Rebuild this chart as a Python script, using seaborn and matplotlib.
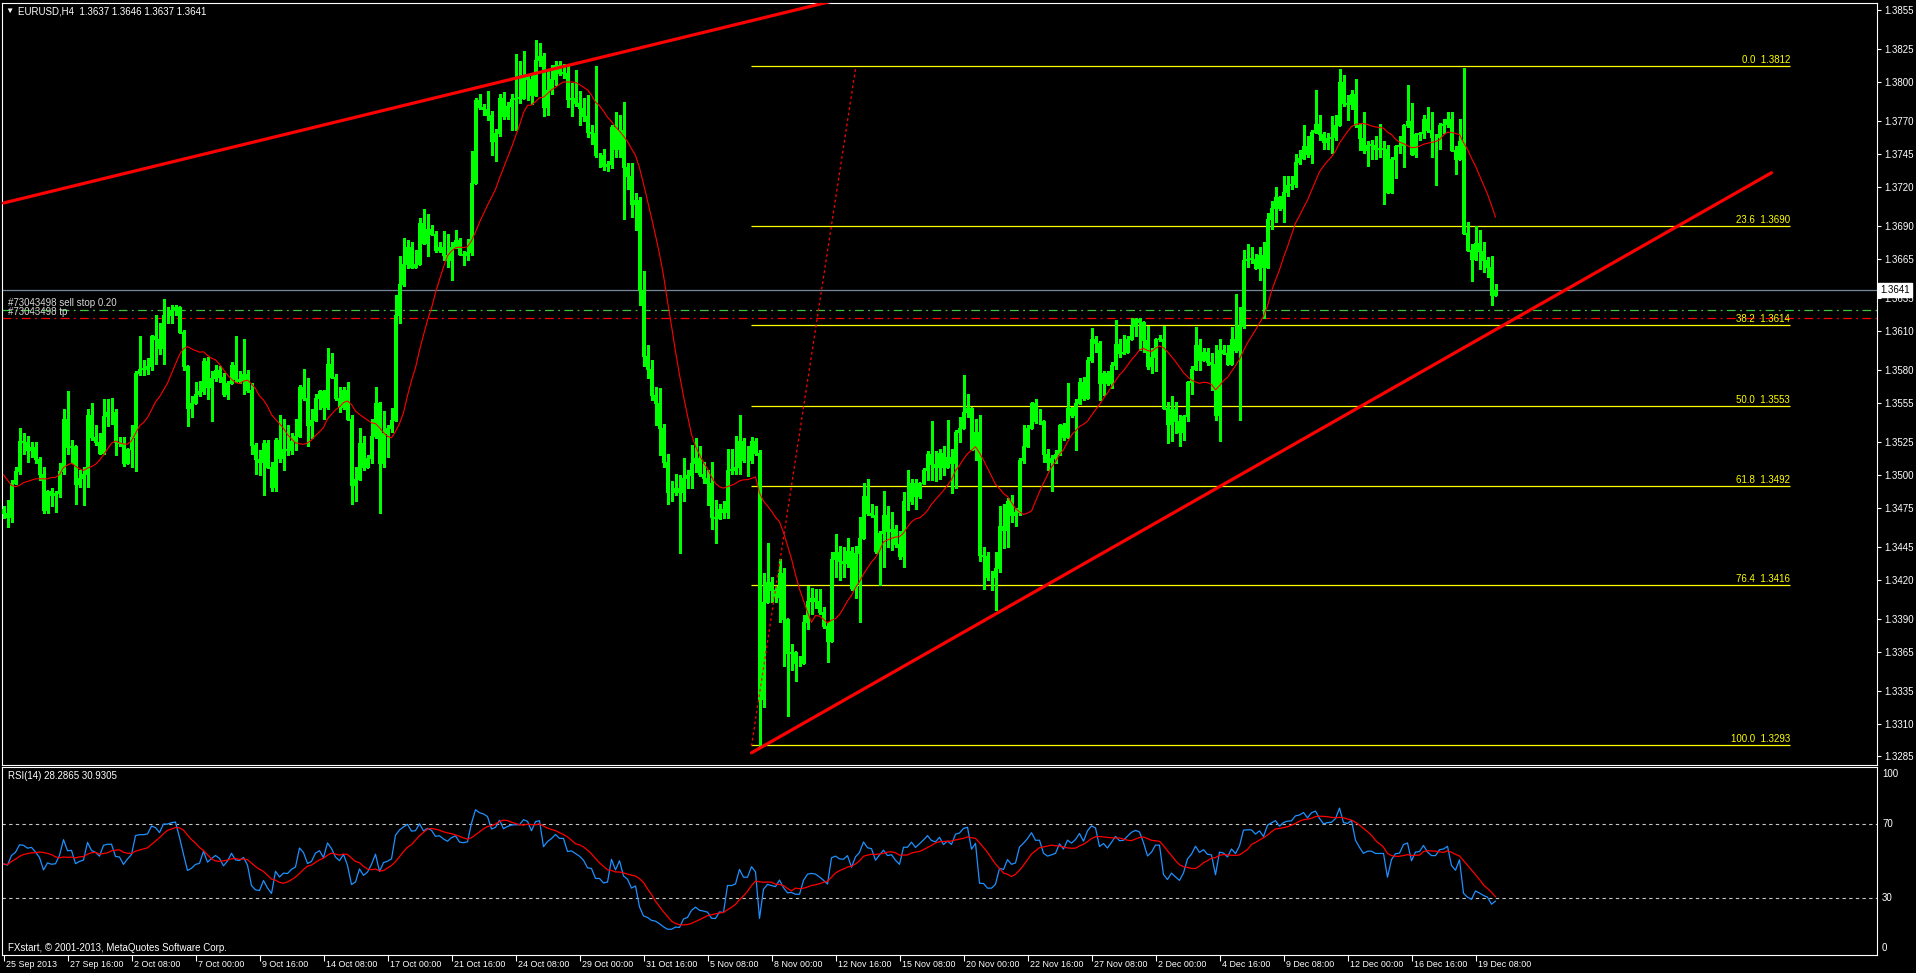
import numpy as np
import pandas as pd
import matplotlib
matplotlib.use("Agg")
import matplotlib.pyplot as plt
import matplotlib.transforms as mtrans
import seaborn as sns

sns.set_theme(style="ticks", rc={"axes.facecolor": "black", "figure.facecolor": "black",
                                 "axes.grid": False, "savefig.facecolor": "black"})
plt.rcParams['font.family'] = ['Liberation Sans', 'DejaVu Sans']

# ---------------- data (prices in pips above 1.3000) ----------------
symbol = "EURUSD,H4"
base = 1.3
open0_pips = 474
close_pips = [
471,468,494,503,526,525,519,521,512,501,473,488,485,486,503,543,
521,522,493,498,501,546,529,525,517,545,548,548,525,524,509,520,
529,578,581,581,583,606,604,597,622,622,626,628,609,583,551,555,
562,564,587,567,574,580,575,562,570,584,573,572,577,565,523,512,
510,524,506,491,527,513,520,519,526,530,567,559,538,542,559,564,
552,585,575,559,552,565,543,492,497,524,506,513,530,555,509,532,
536,542,622,646,661,674,659,661,692,677,688,684,672,674,668,664,
674,679,669,668,670,723,786,781,779,775,755,761,788,774,782,787,
788,788,804,802,790,817,820,781,794,802,813,807,807,787,788,784,
780,774,762,761,744,744,736,737,766,749,763,735,728,707,710,641,
591,581,561,555,536,510,487,487,490,487,498,500,509,513,501,498,
494,468,467,474,472,504,504,506,526,511,511,526,517,329,403,418,
412,407,425,390,364,365,356,356,388,404,406,404,395,385,373,436,
441,434,433,442,414,440,452,484,471,469,442,456,469,457,459,447,
438,480,480,494,484,494,504,516,508,506,517,506,514,509,533,536,
548,551,520,533,439,438,422,422,429,461,458,480,469,472,511,522,
536,555,541,541,516,510,513,516,538,529,551,546,555,571,559,588,
604,601,570,578,570,584,600,593,594,604,614,619,617,603,583,590,
604,604,551,539,550,541,533,545,571,581,599,588,594,586,585,546,
595,593,585,604,595,614,664,665,665,658,668,659,695,704,712,704,
716,721,722,739,742,751,745,762,768,760,754,757,758,767,800,784,
783,791,767,757,748,752,752,749,749,749,716,741,751,752,767,770,
745,760,761,772,763,758,758,767,768,772,748,741,755,685,672,665,
677,671,664,659,637,641]
high_pips = [
476,481,496,506,536,532,530,525,525,514,506,488,490,488,509,550,
564,527,518,504,506,550,555,538,532,558,558,559,550,529,529,520,
538,579,606,588,589,607,622,616,634,628,630,630,626,611,583,560,
571,572,589,590,579,584,583,578,572,586,606,579,604,580,570,524,
519,527,527,510,528,546,543,538,532,543,569,581,574,550,562,565,
565,597,593,577,567,567,571,546,506,536,530,515,543,567,556,549,
538,551,637,667,681,679,678,672,696,703,699,691,686,678,686,684,
678,687,681,671,680,747,788,791,783,793,778,764,791,792,785,791,
821,816,824,805,805,832,830,822,808,813,816,816,814,812,799,809,
793,788,790,767,812,746,749,740,767,777,775,785,738,738,715,712,
656,599,588,567,566,539,516,495,501,500,513,504,523,528,522,510,
504,510,481,478,480,520,520,530,546,528,522,529,528,519,425,448,
422,415,436,429,389,371,362,362,393,415,414,413,413,399,388,441,
455,446,445,452,445,446,468,494,497,478,476,457,488,476,472,462,
457,487,504,497,497,494,505,518,541,518,520,522,542,520,534,544,
576,562,550,543,546,445,441,427,441,476,478,482,485,475,513,538,
538,556,558,550,541,520,515,519,539,540,570,552,558,574,575,590,
612,606,602,579,579,586,618,604,607,606,620,620,620,617,614,597,
604,607,614,556,560,556,546,546,572,583,613,604,597,597,593,599,
604,599,599,613,638,628,672,676,674,669,674,678,700,709,720,713,
728,728,728,745,748,767,759,763,794,775,762,761,774,775,810,805,
790,794,802,768,777,755,756,759,768,755,752,743,752,759,767,798,
784,761,762,775,781,777,760,769,772,777,777,751,772,811,693,676,
690,687,678,666,667,646]
low_pips = [
467,460,464,493,501,516,510,514,509,496,471,471,476,472,483,501,
516,509,478,491,477,491,527,523,516,516,537,539,515,522,507,509,
506,503,576,576,577,580,585,592,585,616,616,622,608,580,537,544,
557,560,562,558,541,572,571,560,558,570,571,570,562,563,516,501,
500,485,505,488,488,510,504,515,516,519,529,557,522,528,541,550,
543,550,574,557,548,550,542,478,480,496,504,506,509,528,471,506,
514,533,541,616,644,658,658,660,661,676,667,683,670,670,664,659,
649,673,668,660,664,668,723,779,775,771,744,740,759,772,772,763,
763,784,789,786,783,789,812,774,775,791,798,805,803,781,774,782,
767,770,758,753,743,735,733,732,734,743,743,695,718,697,687,630,
583,574,557,538,515,506,478,480,485,440,480,490,490,502,499,494,
477,459,448,466,467,467,501,501,501,510,499,509,515,293,323,403,
403,403,388,354,316,351,343,354,356,382,394,398,394,383,357,373,
422,420,422,430,412,406,388,452,469,468,440,416,430,445,443,445,
436,430,473,478,474,482,493,496,496,495,497,500,506,486,490,525,
536,544,519,511,434,413,420,412,397,426,444,445,464,461,469,509,
521,536,540,539,510,504,488,509,515,527,529,544,519,554,557,560,
586,594,557,561,569,566,581,590,592,595,604,606,595,594,581,578,
579,602,550,524,526,532,522,527,541,562,580,580,588,584,565,542,
526,592,585,585,594,542,612,659,662,658,649,620,658,688,693,702,
693,713,718,720,737,741,743,738,761,756,749,749,746,756,767,782,
771,779,766,748,746,736,741,741,743,707,715,715,727,746,735,766,
744,743,756,757,762,743,721,749,761,766,747,730,741,684,671,648,
664,657,655,651,630,637]

# moving average on price: values before a full window
ma_period = 14
ma_lead_pips = [500, 496, 492, 491, 492, 494, 495, 496, 497, 497, 497, 497, 498]

# RSI settings (state before first bar, in pips), signal MA on RSI
rsi_period = 14
rsi_seed_gain, rsi_seed_loss = 10.0, 10.4
rsi_signal_period = 9
rsi_header = "RSI(14) 28.2865 30.9305"
rsi_levels = [30, 70]
rsi_labels = [100, 70, 30, 0]

date_labels = ["25 Sep 2013", "27 Sep 16:00", "2 Oct 08:00", "7 Oct 00:00", "9 Oct 16:00",
               "14 Oct 08:00", "17 Oct 00:00", "21 Oct 16:00", "24 Oct 08:00", "29 Oct 00:00",
               "31 Oct 16:00", "5 Nov 08:00", "8 Nov 00:00", "12 Nov 16:00", "15 Nov 08:00",
               "20 Nov 00:00", "22 Nov 16:00", "27 Nov 08:00", "2 Dec 00:00", "4 Dec 16:00",
               "9 Dec 08:00", "12 Dec 00:00", "16 Dec 16:00", "19 Dec 08:00"]
bars_per_label = 16

price_ticks = [1.3855, 1.3825, 1.3800, 1.3770, 1.3745, 1.3720, 1.3690, 1.3665, 1.3635,
               1.3610, 1.3580, 1.3555, 1.3525, 1.3500, 1.3475, 1.3445, 1.3420, 1.3390,
               1.3365, 1.3335, 1.3310, 1.3285]

fib_high, fib_low = 1.38124, 1.32934
fib_ratios = [0.0, 23.6, 38.2, 50.0, 61.8, 76.4, 100.0]
fib_span = (186.9, 446.6)                       # bar indices
fib_diag = [(187.0, 1.3293), (213.0, 1.3810)]   # dotted fib trend
upper_trend = [(0.0, 1.37076), (174.0, 1.38371)]   # ray
lower_trend = [(187.0, 1.32878), (442.0, 1.37307)]
bid = 1.3641
order_id = "#73043498"
sellstop_price, sellstop_lots = 1.3626, 0.20
tp_price = 1.3620
copyright_text = "FXstart, \u00a9 2001-2013, MetaQuotes Software Corp."

# ---------------- derived series ----------------
n = len(close_pips)
idx = np.arange(n)
close = base + np.array(close_pips) / 1e4
high = base + np.array(high_pips) / 1e4
low = base + np.array(low_pips) / 1e4
opn = np.concatenate([[base + open0_pips / 1e4], close[:-1]])
high = np.maximum(high, np.maximum(opn, close))
low = np.minimum(low, np.minimum(opn, close))

ma = pd.Series(close).rolling(ma_period).mean().to_numpy()
ma[:len(ma_lead_pips)] = base + np.array(ma_lead_pips) / 1e4

ag, al = rsi_seed_gain / 1e4, rsi_seed_loss / 1e4
prev = opn[0]
rsi = []
for c in close:
    ch = c - prev
    ag = (ag * (rsi_period - 1) + max(ch, 0.0)) / rsi_period
    al = (al * (rsi_period - 1) + max(-ch, 0.0)) / rsi_period
    rsi.append(100.0 * ag / (ag + al))
    prev = c
rsi = np.array(rsi)
rsi_sig = pd.Series(rsi).rolling(rsi_signal_period, min_periods=1).mean().to_numpy()

# ---------------- figure ----------------
W, H = 1916, 973
fig = plt.figure(figsize=(W / 100, H / 100), dpi=100)
XL = (-0.375, 468.375)
LIME = "#00ff00"

ax = fig.add_axes([2 / W, 1 - 765 / H, 1875 / W, 762 / H])
ax.set_facecolor("black")
ax.set_xlim(*XL)
ax.set_ylim(1.32785, 1.38603)

# candles
ax.vlines(idx, low, high, color=LIME, linewidth=0.75, zorder=3, antialiased=False)
bottoms = np.minimum(opn, close)
heights = np.maximum(np.abs(close - opn), 0.00003)
ax.bar(idx, heights, bottom=bottoms, width=0.45, color="white", edgecolor=LIME,
       linewidth=0.75, zorder=4, antialiased=False)

# moving average
sns.lineplot(x=idx, y=ma, ax=ax, color="red", linewidth=0.8, zorder=5, legend=False)

# trend lines
(x0, y0), (x1, y1) = upper_trend
slope = (y1 - y0) / (x1 - x0)
ax.plot([x0, XL[1]], [y0, y0 + slope * (XL[1] - x0)], color="red", linewidth=2.3,
        solid_capstyle="round", zorder=6)
ax.plot([p[0] for p in lower_trend], [p[1] for p in lower_trend], color="red",
        linewidth=2.3, solid_capstyle="round", zorder=6)
ax.plot([p[0] for p in fib_diag], [p[1] for p in fib_diag], color="red", linewidth=0.9,
        linestyle=(0, (2.2, 2.2)), zorder=6)

# fibonacci levels
for r in fib_ratios:
    lvl = fib_high - (fib_high - fib_low) * r / 100.0
    ax.hlines(lvl, fib_span[0], fib_span[1], color="#ffff00", linewidth=0.9, zorder=2)
    ax.text(fib_span[1], lvl + 0.00008, f"{r:.1f}  {lvl:.4f}", color="#ffff00", fontsize=7,
            ha="right", va="bottom", zorder=7)

# horizontal order/bid lines
ax.axhline(bid, color="#778899", linewidth=0.9, zorder=1)
ax.axhline(sellstop_price, color="#3ec43e", linewidth=0.9, linestyle=(0, (7, 3.5, 1.5, 3.5)), zorder=1)
ax.axhline(tp_price, color="#ff0000", linewidth=0.9, linestyle=(0, (7, 3.5, 1.5, 3.5)), zorder=1)
tl = mtrans.blended_transform_factory(ax.transAxes, ax.transData)
ax.text(6 / 1875, sellstop_price + 0.00014, f"{order_id} sell stop {sellstop_lots:.2f}",
        transform=tl, color="#d8d8d8", fontsize=7, va="bottom", ha="left")
ax.text(6 / 1875, tp_price + 0.00008, f"{order_id} tp", transform=tl, color="#d8d8d8",
        fontsize=7, va="bottom", ha="left")

# axes styling
ax.set_xticks([])
ax.set_yticks(price_ticks)
ax.set_yticklabels([f"{v:.4f}" for v in price_ticks])
ax.yaxis.tick_right()
ax.tick_params(axis="y", colors="white", labelsize=7, length=3, width=0.8, pad=2)
ax.set_xlabel("")
ax.set_ylabel("")
for s in ax.spines.values():
    s.set_color("white")
    s.set_linewidth(0.8)

ax.text((1880 - 2) / 1875, bid, f"{bid:.4f}", transform=tl, color="black", fontsize=7,
        ha="left", va="center", zorder=10, clip_on=False,
        bbox=dict(boxstyle="square,pad=0.2", fc="white", ec="white"))

title_vals = f"{opn[-1]:.4f} {high[-1]:.4f} {low[-1]:.4f} {close[-1]:.4f}"
fig.text(5 / W, 1 - 11 / H, "\u25bc", color="white", fontsize=6, va="center", ha="left")
fig.text(18 / W, 1 - 11 / H, f"{symbol}  {title_vals}", color="white", fontsize=7,
         va="center", ha="left")

# ---------------- RSI panel ----------------
axr = fig.add_axes([2 / W, 1 - 955 / H, 1875 / W, 188 / H])
axr.set_facecolor("black")
axr.set_xlim(*XL)
axr.set_ylim(-0.8, 101)
for lv in rsi_levels:
    axr.axhline(lv, color="#c8c8c8", linewidth=0.8, linestyle=(0, (3, 3)), zorder=1)
sns.lineplot(x=idx, y=rsi, ax=axr, color="#1e90ff", linewidth=0.9, zorder=3, legend=False)
sns.lineplot(x=idx, y=rsi_sig, ax=axr, color="red", linewidth=0.9, zorder=4, legend=False)
axr.set_xlabel("")
axr.set_ylabel("")
axr.set_yticks([])
label_bars = [k * bars_per_label for k in range(len(date_labels))]
axr.set_xticks(label_bars)
axr.tick_params(axis="x", colors="white", length=4, width=0.8, labelbottom=False)
for s in axr.spines.values():
    s.set_color("white")
    s.set_linewidth(0.8)

tr = mtrans.blended_transform_factory(axr.transAxes, axr.transData)
rsi_label_pos = {100: 97.3, 70: 70, 30: 30, 0: 3.2}
for v in rsi_labels:
    axr.text((1882 - 2) / 1875, rsi_label_pos[v], f"{v}", transform=tr, color="white",
             fontsize=7, ha="left", va="center", clip_on=False)
axr.text(6 / 1875, 1 - 9 / 188, rsi_header, transform=axr.transAxes, color="white",
         fontsize=7, ha="left", va="center")
axr.text(6 / 1875, 1 - 181 / 188, copyright_text, transform=axr.transAxes, color="white",
         fontsize=7, ha="left", va="center")

td = mtrans.blended_transform_factory(axr.transData, fig.transFigure)
for b, lab in zip(label_bars, date_labels):
    fig.text(b + 0.6, 1 - 964.5 / H, lab, transform=td, color="white", fontsize=6.4,
             ha="left", va="center")

fig.savefig("out.png", dpi=100, facecolor="black")
